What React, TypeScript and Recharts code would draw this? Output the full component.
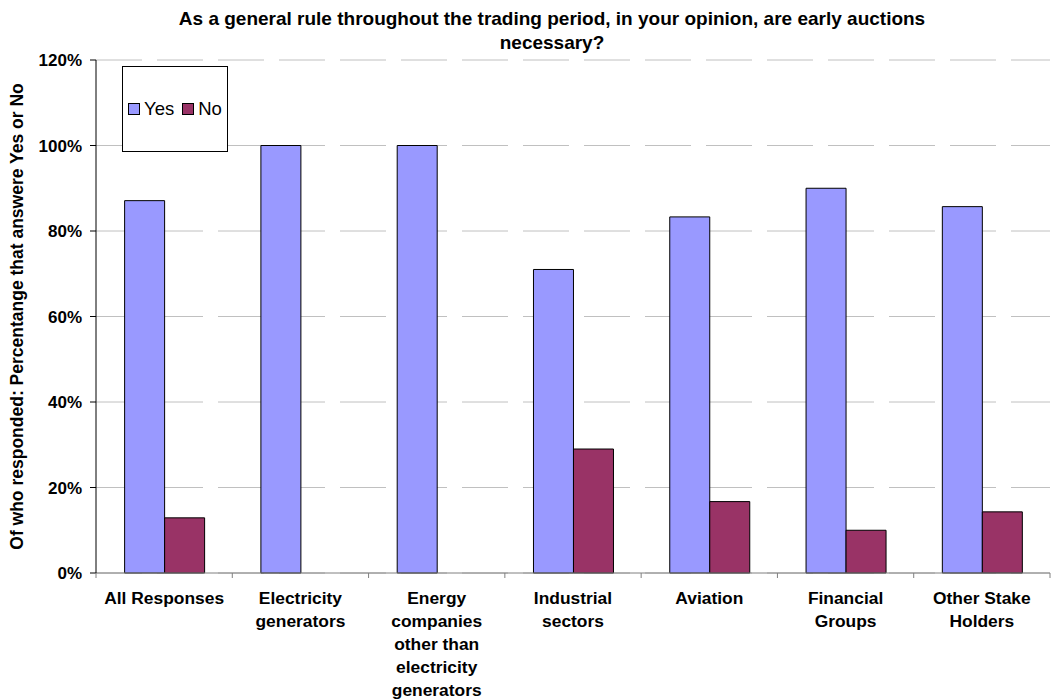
import React from 'react';
import {
    Bar,
    BarChart,
    CartesianGrid,
    Text,
    XAxis,
    YAxis,
} from 'recharts';

const categories = [
    'All Responses',
    'Electricity generators',
    'Energy companies other than electricity generators',
    'Industrial sectors',
    'Aviation',
    'Financial Groups',
    'Other Stake Holders',
];
const yesValues = [87.1, 100, 100, 71, 83.3, 90, 85.7];
const noValues = [12.9, 0, 0, 29, 16.7, 10, 14.3];
const yTicks = [0, 20, 40, 60, 80, 100, 120];

const data = categories.map((name, i) => ({ name, yes: yesValues[i], no: noValues[i] }));

const font = 'Arial, "Liberation Sans", Helvetica, sans-serif';

function CategoryTick(props: any) {
    const { x, y, payload, index } = props;
    const half = payload && payload.offset ? payload.offset : 68.1;
    return (
        <g>
            <line x1={x - half} y1={y - 8} x2={x - half} y2={y - 3} stroke="#808080" />
            {index === categories.length - 1 && (
                <line x1={x + half} y1={y - 8} x2={x + half} y2={y - 3} stroke="#808080" />
            )}
            <Text
                x={x}
                y={y + 11}
                width={128}
                textAnchor="middle"
                verticalAnchor="start"
                lineHeight={23}
                style={{ fontFamily: font, fontWeight: 'bold', fontSize: 17.4, fill: '#000' }}
            >
                {payload.value}
            </Text>
        </g>
    );
}

function LegendBox() {
    const sq = (color: string) => (
        <span
            style={{
                display: 'inline-block',
                width: 12,
                height: 12,
                background: color,
                border: '1px solid #000',
                boxSizing: 'border-box',
                marginRight: 4,
            }}
        />
    );
    return (
        <div
            style={{
                position: 'absolute',
                left: 122,
                top: 66,
                width: 106,
                height: 86,
                border: '1px solid #000',
                boxSizing: 'border-box',
                background: '#fff',
                display: 'flex',
                alignItems: 'center',
                paddingLeft: 5,
                fontFamily: font,
                fontSize: 18.5,
                color: '#000',
                whiteSpace: 'nowrap',
            }}
        >
            {sq('#9999FF')}
            <span style={{ marginRight: 8 }}>Yes</span>
            {sq('#993366')}
            <span>No</span>
        </div>
    );
}

export default function App() {
    return (
        <div style={{ position: 'fixed', left: 0, top: 0, width: 1053, height: 700, background: '#fff' }}>
            <div
                style={{
                    position: 'absolute',
                    left: 52,
                    width: 1000,
                    top: 7,
                    textAlign: 'center',
                    fontFamily: font,
                    fontWeight: 'bold',
                    fontSize: 19,
                    lineHeight: '24px',
                }}
            >
                As a general rule throughout the trading period, in your opinion, are early auctions
                <br />
                necessary?
            </div>
            <BarChart
                width={1053}
                height={700}
                data={data}
                margin={{ top: 60, right: 3, left: 0, bottom: 0 }}
                barCategoryGap="21%"
                barGap={0}
            >
                <CartesianGrid vertical={false} stroke="#c0c0c0" strokeDasharray="46 15" />
                <XAxis
                    dataKey="name"
                    height={127}
                    interval={0}
                    stroke="#808080"
                    tickLine={false}
                    tick={<CategoryTick />}
                />
                <YAxis
                    width={96}
                    domain={[0, 120]}
                    ticks={yTicks}
                    interval={0}
                    stroke="#000"
                    tickSize={6}
                    tickMargin={8}
                    tickFormatter={(v: number) => `${v}%`}
                    tick={{ fontFamily: font, fontWeight: 'bold', fontSize: 17, fill: '#000' }}
                    label={{
                        value: 'Of who responded: Percentange that answere Yes or No',
                        angle: -90,
                        position: 'insideLeft',
                        offset: 17,
                        style: { fontFamily: font, fontWeight: 'bold', fontSize: 17.5, fill: '#000', textAnchor: 'middle' },
                    }}
                />
                <Bar dataKey="yes" name="Yes" fill="#9999FF" stroke="#000" strokeWidth={1} isAnimationActive={false} />
                <Bar dataKey="no" name="No" fill="#993366" stroke="#000" strokeWidth={1} isAnimationActive={false} />
            </BarChart>
            <LegendBox />
        </div>
    );
}
